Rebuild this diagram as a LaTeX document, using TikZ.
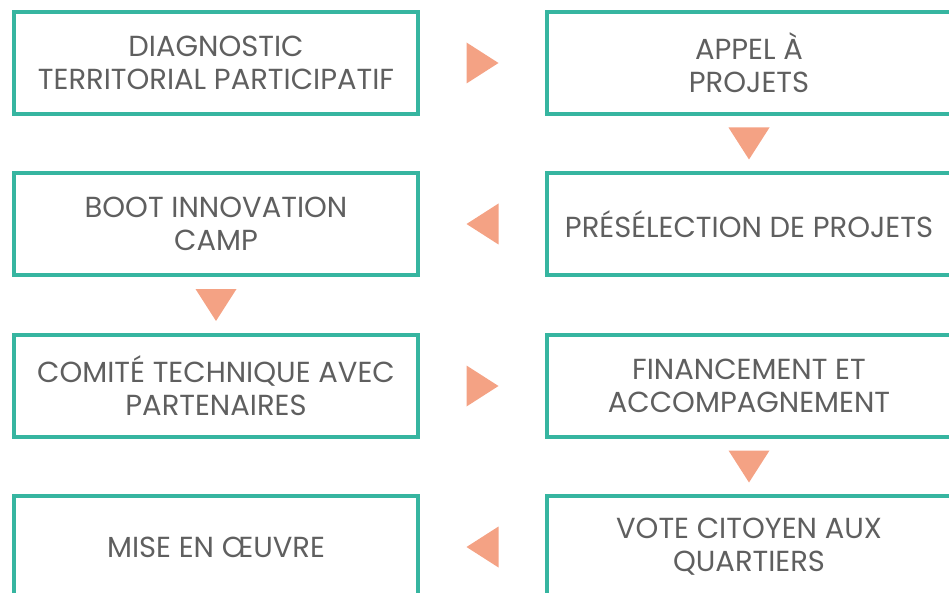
\documentclass[tikz,border=0pt]{standalone}
\usepackage{fontspec}
\setmainfont{Poppins}
\usetikzlibrary{calc}

\definecolor{turquoise}{RGB}{54,181,160}
\definecolor{saumon}{RGB}{244,162,132}
\definecolor{texte}{RGB}{95,95,95}

\tikzset{
  etape/.style={draw=turquoise, line width=4pt, minimum width=404pt, minimum height=102pt,
    align=center, text=texte, font=\fontsize{29}{33}\selectfont},
  pics/fleche/.style={code={\fill[saumon] (16pt,0) -- (-16pt,20.5pt) -- (-16pt,-20.5pt) -- cycle;}}
}

\begin{document}
\begin{tikzpicture}[x=1pt, y=1pt]
		\path[use as bounding box] (0,0) rectangle (949,-593);
		% etapes du parcours
		\node[etape] (diag) at (216,-63) {DIAGNOSTIC\\TERRITORIAL PARTICIPATIF};
		\node[etape] (appel) at (749,-63) {APPEL À\\PROJETS};
		\node[etape] (presel) at (749,-224) {PRÉSÉLECTION DE PROJETS};
		\node[etape] (boot) at (216,-224) {BOOT INNOVATION\\CAMP};
		\node[etape] (comite) at (216,-386) {COMITÉ TECHNIQUE AVEC\\PARTENAIRES};
		\node[etape] (finan) at (749,-386) {FINANCEMENT ET\\ACCOMPAGNEMENT};
		\node[etape] (vote) at (749,-547) {VOTE CITOYEN AUX\\QUARTIERS};
		\node[etape] (mise) at (216,-547) {MISE EN ŒUVRE};
		% fleches
		\pic at ($(diag.east)!0.5!(appel.west)$) {fleche};
		\pic[rotate=-90] at ($(appel.south)!0.5!(presel.north)$) {fleche};
		\pic[rotate=180] at ($(presel.west)!0.5!(boot.east)$) {fleche};
		\pic[rotate=-90] at ($(boot.south)!0.5!(comite.north)$) {fleche};
		\pic at ($(comite.east)!0.5!(finan.west)$) {fleche};
		\pic[rotate=-90] at ($(finan.south)!0.5!(vote.north)$) {fleche};
		\pic[rotate=180] at ($(vote.west)!0.5!(mise.east)$) {fleche};
\end{tikzpicture}
\end{document}
